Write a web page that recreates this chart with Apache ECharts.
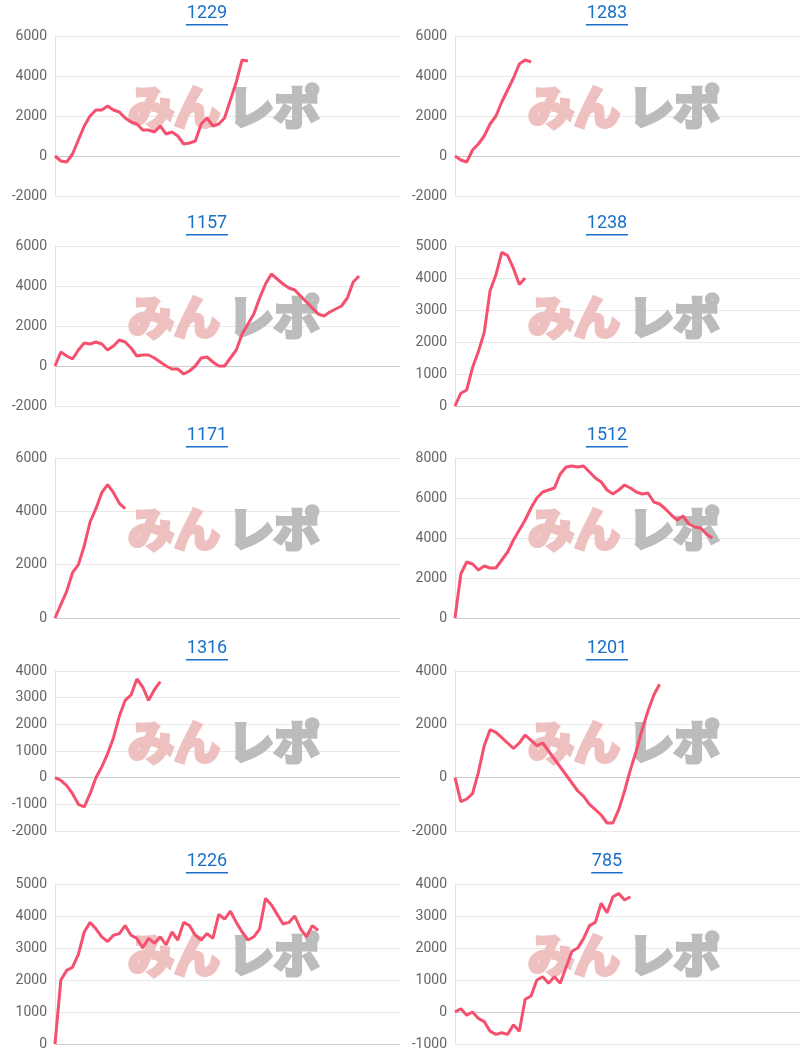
<!DOCTYPE html>
<html><head><meta charset="utf-8">
<script src="https://cdn.jsdelivr.net/npm/echarts@6/dist/echarts.min.js"></script>
<style>html,body{margin:0;background:#fff}#main{width:800px;height:1053px}</style>
</head><body><div id="main"></div>
<script>
var titles = ['1229', '1283', '1157', '1238', '1171', '1512', '1316', '1201', '1226', '785'];
var s1229 = [0,-250,-300,100,800,1500,2000,2300,2300,2500,2300,2200,1900,1700,1600,1300,1300,1200,1500,1100,1200,1000,600,650,750,1600,1900,1500,1600,1900,2800,3700,4800,4750];
var s1283 = [0,-200,-300,300,600,1000,1600,2000,2700,3300,3900,4600,4800,4700];
var s1157 = [0,700,500,350,800,1150,1100,1200,1100,800,1000,1300,1200,900,500,550,550,400,200,0,-150,-150,-400,-250,0,400,450,200,0,0,400,800,1600,2100,2600,3400,4100,4600,4350,4100,3900,3800,3500,3200,2900,2600,2500,2700,2850,3000,3400,4200,4500];
var s1238 = [0,400,500,1200,1700,2300,3600,4100,4800,4700,4300,3800,4000];
var s1171 = [0,500,1000,1700,2000,2700,3600,4100,4700,5000,4700,4300,4100];
var s1512 = [0,2200,2800,2700,2400,2600,2500,2500,2900,3300,3900,4400,4900,5500,6000,6300,6400,6500,7200,7550,7600,7550,7600,7300,7000,6800,6400,6200,6400,6650,6500,6300,6200,6250,5800,5700,5450,5150,4900,5100,4700,4550,4500,4200,4000];
var s1316 = [0,-100,-300,-600,-1000,-1100,-600,0,400,900,1500,2300,2900,3100,3700,3400,2900,3300,3600];
var s1201 = [0,-900,-800,-600,200,1200,1800,1700,1500,1300,1100,1300,1600,1400,1200,1300,1000,700,400,100,-200,-500,-700,-1000,-1200,-1400,-1700,-1700,-1200,-500,300,1000,1800,2500,3100,3500];
var s1226 = [0,2000,2300,2400,2800,3500,3800,3600,3350,3200,3400,3450,3700,3400,3300,3000,3300,3150,3350,3100,3500,3250,3800,3700,3400,3250,3450,3300,4050,3900,4150,3800,3500,3250,3350,3600,4550,4350,4050,3750,3800,4000,3600,3350,3700,3550];
var s785 = [0,100,-100,0,-200,-300,-600,-700,-650,-700,-400,-600,400,500,1000,1100,900,1100,900,1400,1900,2000,2300,2700,2800,3400,3100,3600,3700,3500,3600];
var seriesData = [s1229, s1283, s1157, s1238, s1171, s1512, s1316, s1201, s1226, s785];
var yMin = [-2000, -2000, -2000, 0, 0, 0, -2000, -2000, 0, -1000];
var yMax = [6000, 6000, 6000, 5000, 6000, 8000, 4000, 4000, 5000, 4000];
var yStep = [2000, 2000, 2000, 1000, 2000, 2000, 1000, 2000, 1000, 1000];

var slots = [];
for (var i = 0; i < 60; i++) slots.push(i);
var rowTop = [0, 210, 422, 635, 848];

var myChart = echarts.init(document.getElementById('main'));
var grid = [], xAxis = [], yAxis = [], series = [], graphic = [];
for (var k = 0; k < titles.length; k++) {
    var c = k % 2, r = Math.floor(k / 2);
    var gLeft = c == 0 ? 55 : 455, pTop = rowTop[r];
    grid.push({ left: gLeft, top: pTop + 36, width: 345, height: 160 });
    xAxis.push({
        type: 'category', gridIndex: k, data: slots, boundaryGap: false,
        axisLabel: { show: false }, axisTick: { show: false },
        axisLine: { onZero: true, lineStyle: { color: '#ccc' } }
    });
    yAxis.push({
        type: 'value', gridIndex: k, min: yMin[k], max: yMax[k], interval: yStep[k],
        axisLine: { show: true, lineStyle: { color: '#e2e2e2' } },
        axisLabel: {
            color: '#666', fontSize: 14, fontFamily: 'Roboto', margin: 8,
            formatter: function (v) { return String(v); }
        },
        splitLine: { lineStyle: { color: '#e8e8e8' } }
    });
    series.push({
        type: 'line', xAxisIndex: k, yAxisIndex: k, data: seriesData[k],
        showSymbol: false, z: 3,
        lineStyle: { color: '#f5506e', width: 3 }
    });
    var cx = c * 400 + 207;
    // タイトル（下線付き）
    graphic.push({
        type: 'text', x: cx, y: pTop + 4, z: 10,
        style: { text: titles[k], fill: '#1a6fc9', fontSize: 18, fontFamily: 'Roboto', align: 'center', verticalAlign: 'top' }
    });
    var tw = titles[k].length * 10.5;
    graphic.push({
        type: 'rect', shape: { x: cx - tw / 2, y: pTop + 24, width: tw, height: 1.5 },
        style: { fill: '#1a6fc9' }
    });
    // 透かし
    graphic.push({
        type: 'text', x: c * 400 + 128, y: pTop + 84, z: 1,
        style: { text: 'みん', fill: '#eec0c0', stroke: '#eec0c0', lineWidth: 4, fontSize: 46, fontWeight: 'bold', fontFamily: 'Noto Sans CJK JP' }
    });
    graphic.push({
        type: 'text', x: c * 400 + 228, y: pTop + 84, z: 1,
        style: { text: 'レポ', fill: '#bcbcbc', stroke: '#bcbcbc', lineWidth: 4, fontSize: 46, fontWeight: 'bold', fontFamily: 'Noto Sans CJK JP' }
    });
}
myChart.setOption({
    animation: false,
    grid: grid, xAxis: xAxis, yAxis: yAxis, series: series, graphic: graphic
});
</script>
</body></html>
